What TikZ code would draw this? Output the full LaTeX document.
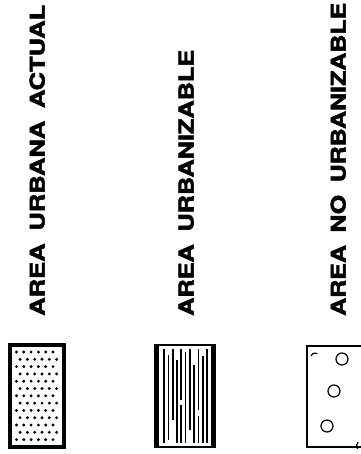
\documentclass[tikz,border=0pt]{standalone}
\usepackage{fontspec}
\setmainfont{TeX Gyre Heros}[BoldFeatures={FakeBold=2.2}]
\begin{document}
\begin{tikzpicture}[x=1pt,y=-1pt,
  lbl/.style={rotate=90,anchor=south west,inner sep=0pt,font=\bfseries},
  boxframe/.style={draw=black,line width=3.5pt},
  dotfill/.style={fill=black},
  hatch/.style={line width=1.3pt},
  ring/.style={draw=black,line width=1.2pt}]
\useasboundingbox (0,0) rectangle (360,454);
% labels
\node[lbl] (t1) at (45,316) {\resizebox{311pt}{15pt}{AREA\hspace{0.5em}URBANA\hspace{0.5em}ACTUAL}};
\node[lbl] (t2) at (194,316) {\resizebox{266pt}{15pt}{AREA\hspace{0.5em}URBANIZABLE}};
\node[lbl] (t3) at (346,316) {\resizebox{313pt}{15pt}{AREA\hspace{0.5em}NO\hspace{0.5em}URBANIZABLE}};
% box 1: dots
\node[boxframe,minimum width=54pt,minimum height=102pt,inner sep=0pt] (b1) at (37,396) {};
\foreach \r in {0,...,12}{
  \pgfmathsetmacro{\yy}{352+\r*7.3}
  \pgfmathsetmacro{\off}{mod(\r,2)*3.6}
  \foreach \c in {0,...,5}{
    \pgfmathsetmacro{\xx}{16.5+\off+\c*7.3}
    \ifdim\xx pt<60pt
      \fill[dotfill] (\xx,\yy) circle (1.6);
    \fi
  }
}
% box 2: vertical lines
\node[draw=black,line width=2.5pt,minimum width=55pt,minimum height=102pt,inner sep=0pt] (b2) at (185,396) {};
\draw[line width=4pt] (b2.north west) -- (b2.south west);
\draw[line width=4pt] (b2.north east) -- (b2.south east);
\foreach \xx/\ya/\yb in {164/349/443, 168.5/355/440, 173/349/420, 177/360/443, 181/349/400, 181/405/443, 185.5/352/443, 190/349/430, 194/365/443, 198.5/349/410, 198.5/416/443, 203/356/443, 207/349/443}{
  \draw[hatch] (\xx,\ya) -- (\xx,\yb);
}
% box 3: circles
\draw[line width=1.6pt] (362,346) -- (307,346) -- (307,447) -- (362,447);
\draw[line width=1pt] (307.8,346) -- (307.8,447);
\node[ring,circle,minimum size=12pt,inner sep=0pt] (c1) at (342,359) {};
\node[ring,circle,minimum size=12pt,inner sep=0pt] (c2) at (334,391) {};
\node[ring,circle,minimum size=12pt,inner sep=0pt] (c3) at (327,426) {};
\draw[line width=1.2pt] (311,356) arc (200:300:4.5);
\draw[line width=1.2pt] (358,442) arc (220:150:6);
\end{tikzpicture}
\end{document}
